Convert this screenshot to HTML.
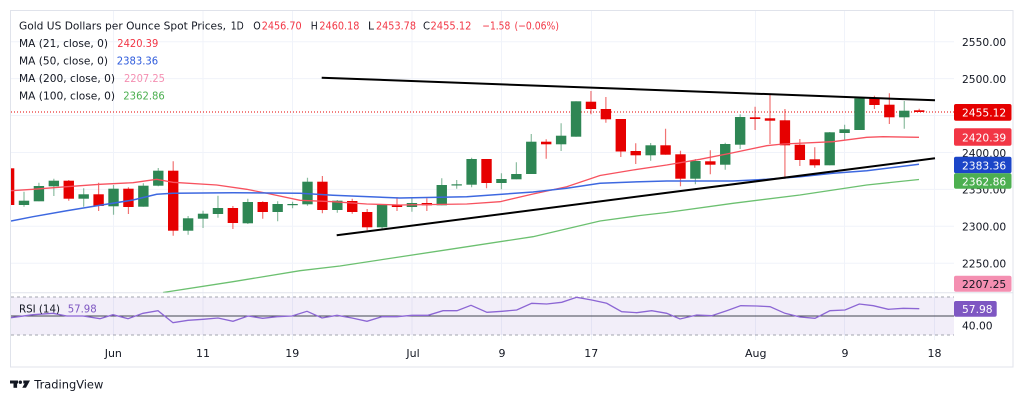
<!DOCTYPE html>
<html><head><meta charset="utf-8"><style>
html,body{margin:0;padding:0;background:#fff;width:1024px;height:403px;overflow:hidden}
svg{display:block}
text{font-family:"DejaVu Sans","Liberation Sans",sans-serif}
</style></head><body>
<svg width="1024" height="403" viewBox="0 0 1024 403" xmlns="http://www.w3.org/2000/svg">
<defs>
<clipPath id="pc"><rect x="11" y="11" width="943" height="281.5"/></clipPath>
<clipPath id="rc"><rect x="11" y="293" width="943" height="46"/></clipPath>
</defs>
<rect x="10.5" y="10.5" width="1002.5" height="356.5" fill="#fff" stroke="#e0e3eb"/>
<!-- grid -->
<g stroke="#f0f3fa" stroke-width="1">
<path d="M11 41.7H954 M11 78.6H954 M11 115.5H954 M11 152.5H954 M11 189.4H954 M11 226.3H954 M11 263.2H954"/>
<path d="M113.5 11V340 M203 11V340 M292.5 11V340 M412 11V340 M501.5 11V340 M591.5 11V340 M755.5 11V340 M844.5 11V340 M934.5 11V340"/>
</g>
<line x1="10" y1="292.8" x2="1013" y2="292.8" stroke="#e0e3eb"/>
<!-- price pane -->
<g clip-path="url(#pc)">
<line x1="11" y1="112" x2="954" y2="112" stroke="#e60000" stroke-width="1" stroke-dasharray="1,2"/>
<path fill="none" stroke="rgba(230,0,0,0.55)" stroke-width="1.2" d="M68.76 180V200.7 M98.6 182.7V211 M128.44 187.3V214 M173.2 161.3V235.7 M232.88 206V229 M262.72 201.3V218.7 M322.4 176V213.3 M352.24 198.7V213.7 M367.16 209V230.3 M397 197.3V211 M426.84 198.3V211 M486.52 159V188.3 M546.2 139.3V158.7 M590.96 91V114.3 M605.88 97V122.7 M620.8 119V157 M635.72 143.3V164 M665.56 128.7V154.7 M680.48 150.7V186.3 M710.32 150.3V174.3 M755.08 106.7V130 M770 95V144 M784.92 109V178.7 M799.84 139V166 M814.76 147.3V167.7 M874.44 95.7V109 M889.36 93.3V124 M919.2 108.7V112"/>
<path fill="none" stroke="rgba(46,134,84,0.55)" stroke-width="1.2" d="M24 191.7V206.7 M38.92 182.7V201.3 M53.84 178.7V196 M83.68 188.3V206.7 M113.52 185V214.7 M143.36 183.3V206.7 M158.28 168V186.3 M188.12 216V234.7 M203.04 210.7V228 M217.96 195.7V217.7 M247.8 198.7V224 M277.64 201.3V221.3 M292.56 201.7V208.3 M307.48 177.7V205.7 M337.32 200V212.7 M382.08 204.3V229 M411.92 198.3V211.7 M441.76 178.3V205.3 M456.68 180V188.7 M471.6 157.7V187.3 M501.44 173.3V189.3 M516.36 162.3V179.3 M531.28 134V174 M561.12 123.3V151 M576.04 101.3V136.7 M650.64 143V160.7 M695.4 159V184.3 M725.24 142.7V169.7 M740.16 114.3V149 M829.68 132V165.3 M844.6 124.7V139.7 M859.52 98V130 M904.28 101V128.7"/>
<g fill="#e60000">
<rect x="11" y="168.3" width="3.3" height="36.7"/>
<rect x="63.56" y="180.7" width="10.4" height="18"/>
<rect x="93.4" y="194.3" width="10.4" height="11.7"/>
<rect x="123.24" y="188.7" width="10.4" height="18.3"/>
<rect x="168" y="170.7" width="10.4" height="60"/>
<rect x="227.68" y="208" width="10.4" height="15"/>
<rect x="257.52" y="202" width="10.4" height="10"/>
<rect x="317.2" y="181.7" width="10.4" height="28.3"/>
<rect x="347.04" y="201" width="10.4" height="11"/>
<rect x="361.96" y="212" width="10.4" height="15.3"/>
<rect x="391.8" y="205.3" width="10.4" height="1.7"/>
<rect x="421.64" y="203" width="10.4" height="2.3"/>
<rect x="481.32" y="159" width="10.4" height="24"/>
<rect x="541" y="141.7" width="10.4" height="2.6"/>
<rect x="585.76" y="101.7" width="10.4" height="7.3"/>
<rect x="600.68" y="109" width="10.4" height="10.3"/>
<rect x="615.6" y="119" width="10.4" height="32.5"/>
<rect x="630.52" y="151" width="10.4" height="4.3"/>
<rect x="660.36" y="145.3" width="10.4" height="9.4"/>
<rect x="675.28" y="154.3" width="10.4" height="24.4"/>
<rect x="705.12" y="161.3" width="10.4" height="3.4"/>
<rect x="749.88" y="117.3" width="10.4" height="1.7"/>
<rect x="764.8" y="118.3" width="10.4" height="2.4"/>
<rect x="779.72" y="120.3" width="10.4" height="25"/>
<rect x="794.64" y="144.7" width="10.4" height="15.3"/>
<rect x="809.56" y="159.3" width="10.4" height="6"/>
<rect x="869.24" y="98.3" width="10.4" height="6.7"/>
<rect x="884.16" y="104.7" width="10.4" height="12.6"/>
<rect x="914" y="110.3" width="10.4" height="1.7"/>
</g>
<g fill="#2e8654">
<rect x="18.8" y="200.7" width="10.4" height="4.3"/>
<rect x="33.72" y="186" width="10.4" height="15.3"/>
<rect x="48.64" y="180.7" width="10.4" height="5.6"/>
<rect x="78.48" y="194.3" width="10.4" height="4.4"/>
<rect x="108.32" y="188.7" width="10.4" height="17.6"/>
<rect x="138.16" y="185.7" width="10.4" height="21"/>
<rect x="153.08" y="170.7" width="10.4" height="15"/>
<rect x="182.92" y="218.3" width="10.4" height="12.4"/>
<rect x="197.84" y="213.7" width="10.4" height="5"/>
<rect x="212.76" y="208" width="10.4" height="6"/>
<rect x="242.6" y="202" width="10.4" height="21.3"/>
<rect x="272.44" y="204" width="10.4" height="8"/>
<rect x="287.36" y="204" width="10.4" height="1.2"/>
<rect x="302.28" y="181.7" width="10.4" height="22.6"/>
<rect x="332.12" y="200.7" width="10.4" height="9.3"/>
<rect x="376.88" y="205" width="10.4" height="22.3"/>
<rect x="406.72" y="203" width="10.4" height="4"/>
<rect x="436.56" y="185" width="10.4" height="20.3"/>
<rect x="451.48" y="184.3" width="10.4" height="1.2"/>
<rect x="466.4" y="159" width="10.4" height="25.7"/>
<rect x="496.24" y="179" width="10.4" height="4"/>
<rect x="511.16" y="174" width="10.4" height="5.3"/>
<rect x="526.08" y="141.7" width="10.4" height="32.3"/>
<rect x="555.92" y="135.7" width="10.4" height="8.6"/>
<rect x="570.84" y="101.3" width="10.4" height="35.4"/>
<rect x="645.44" y="145.3" width="10.4" height="10"/>
<rect x="690.2" y="161" width="10.4" height="17.7"/>
<rect x="720.04" y="144" width="10.4" height="20.7"/>
<rect x="734.96" y="117" width="10.4" height="27.7"/>
<rect x="824.48" y="132.3" width="10.4" height="33"/>
<rect x="839.4" y="129.3" width="10.4" height="3.7"/>
<rect x="854.32" y="98.3" width="10.4" height="31.7"/>
<rect x="899.08" y="110.7" width="10.4" height="6.6"/>
</g>
<!-- MAs -->
<polyline fill="none" stroke="#f7525f" stroke-width="1.3" points="11,190.7 33,189.3 66.7,186.7 100,184.3 133,182.7 156.7,179.3 173,182.3 216.7,185 246.7,189.3 266.7,193.3 300,200.3 333,201.7 366.7,204 400,205 466.7,204 500,201.7 533,194 566.7,186.7 600,175.5 633,170 666.7,165 700,159.3 733,152.7 766.7,145.7 783,144 833,141.7 866.7,137.3 883,136.7 919,137.3"/>
<polyline fill="none" stroke="#3d68e0" stroke-width="1.5" points="11,221 33,216.7 66.7,210.7 100,205.3 133,200 156.7,194.3 173,193.3 233,192.7 300,193.3 333,195.3 400,198 466.7,196.7 533,192 566.7,188.3 600,183.3 640,181.7 666.7,181 733,181 766.7,179.3 800,176.7 833,173.3 866.7,170.7 919,164.3"/>
<polyline fill="none" stroke="#6cc070" stroke-width="1.3" points="163,292.5 233,281.7 300,270.7 340,266 450,249.3 533,236.7 600,221 640,215.5 666.7,212.5 733,203.3 800,195 866.7,185 919,179.5"/>
<!-- trendlines -->
<line x1="321.7" y1="77.7" x2="935" y2="100.3" stroke="#000" stroke-width="2"/>
<line x1="336.7" y1="235.3" x2="935" y2="158.3" stroke="#000" stroke-width="2"/>
</g>
<!-- RSI pane -->
<rect x="11" y="297" width="943" height="38" fill="rgba(126,87,194,0.1)"/>
<g stroke="#a3a6af" stroke-width="1" stroke-dasharray="3,3">
<line x1="11" y1="297" x2="954" y2="297"/>
<line x1="11" y1="335" x2="954" y2="335"/>
</g>
<line x1="11" y1="316" x2="954" y2="316" stroke="#434651" stroke-width="1"/>
<polyline clip-path="url(#rc)" fill="none" stroke="#8c66d4" stroke-width="1.3" points="11,317.7 33,314.7 53,313.3 66.7,316 83,316 100,318.7 113,314.7 128,318.7 143,313.3 158,310.7 173,322.7 188,320.3 203,319.3 218,318 233,321.3 248,316 262.7,318.3 277,316.7 292,316 307,311.3 322,318 337,315.3 352,318 367,321.3 382,316.7 397,316.7 412,315.3 428,315.3 443,310.7 457,310.7 471,305.3 487,312.3 502,311.3 516.7,310 531.7,303.3 546.7,304 561.7,302.3 576.7,297.3 591.7,300 606.7,303.3 621.7,311.7 636.7,312.7 651.7,310.7 666.7,313.3 680,319 696.7,315 711.7,315.7 726.7,310.7 740.7,305.7 756.7,306 770,306.7 785,313.3 800,317 815,318.3 830,310.7 845,310 859.3,304 873.3,305.7 888.3,309.3 903.3,308.3 919.3,308.7"/>
<!-- legend -->
<g font-size="11" fill="#131722">
<text x="19" y="29.3" textLength="207" lengthAdjust="spacingAndGlyphs">Gold US Dollars per Ounce Spot Prices,</text>
<text x="230.7" y="29.3" textLength="13" lengthAdjust="spacingAndGlyphs">1D</text>
<text x="253.3" y="29.3" textLength="7.5" lengthAdjust="spacingAndGlyphs">O</text>
<text x="261.7" y="29.3" fill="#f23645" textLength="40" lengthAdjust="spacingAndGlyphs">2456.70</text>
<text x="310.7" y="29.3" textLength="7" lengthAdjust="spacingAndGlyphs">H</text>
<text x="319.4" y="29.3" fill="#f23645" textLength="40" lengthAdjust="spacingAndGlyphs">2460.18</text>
<text x="368" y="29.3" textLength="6" lengthAdjust="spacingAndGlyphs">L</text>
<text x="376" y="29.3" fill="#f23645" textLength="40" lengthAdjust="spacingAndGlyphs">2453.78</text>
<text x="423" y="29.3" textLength="7" lengthAdjust="spacingAndGlyphs">C</text>
<text x="430.5" y="29.3" fill="#f23645" textLength="41" lengthAdjust="spacingAndGlyphs">2455.12</text>
<text x="482.3" y="29.3" fill="#f23645" textLength="28" lengthAdjust="spacingAndGlyphs">−1.58</text>
<text x="514.5" y="29.3" fill="#f23645" textLength="44.5" lengthAdjust="spacingAndGlyphs">(−0.06%)</text>
<text x="19" y="47" textLength="89" lengthAdjust="spacingAndGlyphs">MA (21, close, 0)</text>
<text x="117.3" y="47" fill="#f23645" textLength="41" lengthAdjust="spacingAndGlyphs">2420.39</text>
<text x="19" y="64.6" textLength="89" lengthAdjust="spacingAndGlyphs">MA (50, close, 0)</text>
<text x="116.7" y="64.6" fill="#2e5bdc" textLength="41.5" lengthAdjust="spacingAndGlyphs">2383.36</text>
<text x="19" y="82" textLength="96" lengthAdjust="spacingAndGlyphs">MA (200, close, 0)</text>
<text x="124" y="82" fill="#f48fb1" textLength="41" lengthAdjust="spacingAndGlyphs">2207.25</text>
<text x="19" y="99.4" textLength="96" lengthAdjust="spacingAndGlyphs">MA (100, close, 0)</text>
<text x="123.3" y="99.4" fill="#4caf50" textLength="41.5" lengthAdjust="spacingAndGlyphs">2362.86</text>
<text x="19" y="312.5" textLength="41" lengthAdjust="spacingAndGlyphs">RSI (14)</text>
<text x="67.7" y="312.5" fill="#7e57c2" textLength="29" lengthAdjust="spacingAndGlyphs">57.98</text>
</g>
<!-- price axis -->
<g font-size="10.7" fill="#131722">
<text x="962" y="46">2550.00</text>
<text x="962" y="82.9">2500.00</text>
<text x="962" y="156.8">2400.00</text>
<text x="962" y="193.7">2350.00</text>
<text x="962" y="230.6">2300.00</text>
<text x="962" y="267.5">2250.00</text>
<text x="962" y="329.3">40.00</text>
</g>
<rect x="954" y="104" width="57.5" height="16.7" rx="2" fill="#e50000"/>
<rect x="954" y="128.3" width="57.5" height="17.4" rx="2" fill="#f23645"/>
<rect x="954" y="156.7" width="57.5" height="16.6" rx="2" fill="#1c46c8"/>
<rect x="954" y="173.3" width="57.5" height="15.4" rx="2" fill="#4caf50"/>
<rect x="954" y="275.7" width="57.5" height="16" rx="2" fill="#f48fb1"/>
<rect x="954" y="301" width="42.7" height="15.7" rx="2" fill="#7e57c2"/>
<g font-size="10.7" fill="#fff">
<text x="962" y="116.3">2455.12</text>
<text x="962" y="141.3">2420.39</text>
<text x="962" y="169.3">2383.36</text>
<text x="962" y="185.3">2362.86</text>
<text x="962" y="313">57.98</text>
</g>
<text x="962" y="288" font-size="10.7" fill="#131722">2207.25</text>
<!-- time axis -->
<g font-size="11" fill="#131722" text-anchor="middle">
<text x="113.3" y="357">Jun</text>
<text x="203" y="357">11</text>
<text x="292.3" y="357">19</text>
<text x="413" y="357">Jul</text>
<text x="502" y="357">9</text>
<text x="591.3" y="357">17</text>
<text x="755.7" y="357">Aug</text>
<text x="845" y="357">9</text>
<text x="934.5" y="357">18</text>
</g>
<!-- TradingView logo -->
<g fill="#131722">
<rect x="10" y="380.5" width="8" height="3"/>
<rect x="13.5" y="380.5" width="3.6" height="7.3"/>
<circle cx="20.3" cy="382.2" r="1.7"/>
<polygon points="23.3,380.5 30,380.5 26,387.8 22.3,387.8 24.6,383.5 23.3,383.5"/>
</g>
<text x="34.3" y="388.3" font-size="11.2" fill="#131722" textLength="69" lengthAdjust="spacingAndGlyphs">TradingView</text>
</svg>
</body></html>
